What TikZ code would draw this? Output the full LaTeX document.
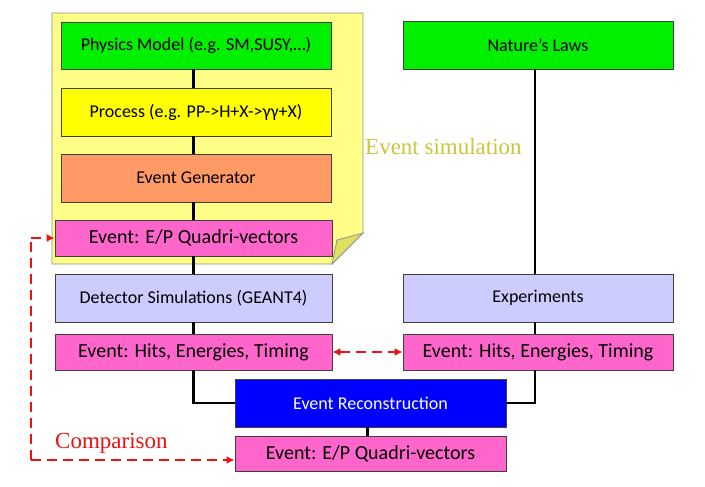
\documentclass[tikz,border=0pt]{standalone}
\usepackage{fontspec}
\setmainfont{Liberation Serif}
\newfontfamily\boxfont{Carlito}
\usetikzlibrary{arrows.meta}
\definecolor{boxborder}{HTML}{404040}
\definecolor{cgreen}{HTML}{00F000}
\definecolor{cyellow}{HTML}{FFFF00}
\definecolor{corange}{HTML}{FF9966}
\definecolor{cpink}{HTML}{FF66CC}
\definecolor{clav}{HTML}{CCCCFF}
\definecolor{cblue}{HTML}{0000FF}
\definecolor{cnote}{HTML}{FFFF88}
\definecolor{cfold}{HTML}{E0E060}
\definecolor{cnotebd}{HTML}{909090}
\definecolor{csim}{HTML}{C8C83C}
\definecolor{cred}{HTML}{EE1111}
\begin{document}
\begin{tikzpicture}[x=1pt,y=-1pt,
  box/.style={draw=boxborder, line width=0.8pt, inner sep=0pt, text=black,
    font=\boxfont\fontsize{18}{21}\selectfont},
  bigbox/.style={box, font=\boxfont\fontsize{20}{23}\selectfont},
  link/.style={line width=2.6pt, black},
  cmp/.style={cred, line width=2.6pt, dash pattern=on 10pt off 6pt},
  tip/.style={-{Latex[length=8pt,width=8pt]}}]
\useasboundingbox (0,0) rectangle (705,487);
\fill[white] (0,0) rectangle (705,487);
% note
\draw[cnotebd, fill=cnote, line width=0.8pt] (52,13) -- (363,13) -- (363,233) -- (332,264) -- (52,264) -- cycle;
\draw[cnotebd, fill=cfold, line width=0.8pt] (332,264) -- (337,240) -- (363,233) -- cycle;
% left column
\node[box, fill=cgreen, minimum width=270pt, minimum height=47pt] (pm) at (196,45.5) {Physics Model (e.g. SM,SUSY,\dots)};
\node[box, fill=cyellow, minimum width=270pt, minimum height=48pt] (pr) at (196,112) {Process (e.g. PP->H+X->γγ+X)};
\node[box, fill=corange, minimum width=270pt, minimum height=48pt] (eg) at (196,178) {Event Generator};
\node[bigbox, fill=cpink, minimum width=277pt, minimum height=36pt] (ep) at (193.5,238) {Event: E/P Quadri-vectors};
\node[box, fill=clav, minimum width=277pt, minimum height=48pt] (ds) at (193.5,298) {Detector Simulations (GEANT4)};
\node[bigbox, fill=cpink, minimum width=277pt, minimum height=36pt] (hl) at (193.5,352) {Event: Hits, Energies, Timing};
% right column
\coordinate (xr) at (535,0);
\node[box, fill=cgreen, minimum width=270pt, minimum height=48pt] (nl) at (538,45) {Nature’s Laws};
\node[box, fill=clav, minimum width=270pt, minimum height=48pt] (ex) at (538,298) {Experiments};
\node[bigbox, fill=cpink, minimum width=270pt, minimum height=36pt] (hr) at (538,352) {Event: Hits, Energies, Timing};
% bottom
\node[box, fill=cblue, text=white, minimum width=271pt, minimum height=48pt] (rc) at (370.5,403) {Event Reconstruction};
\node[bigbox, fill=cpink, minimum width=271pt, minimum height=35pt] (fin) at (370.5,453.5) {Event: E/P Quadri-vectors};
% connectors
\draw[link] (pm.south -| hl.center) -- (pr.north -| hl.center);
\draw[link] (pr.south -| hl.center) -- (eg.north -| hl.center);
\draw[link] (eg.south -| hl.center) -- (ep.north -| hl.center);
\draw[link] (ep.south) -- (ds.north);
\draw[link] (ds.south) -- (hl.north);
\draw[link] (hl.south) -- (hl.south |- rc.west) -- (rc.west);
\draw[link] (nl.south -| xr) -- (ex.north -| xr);
\draw[link] (ex.south -| xr) -- (hr.north -| xr);
\draw[link] (hr.south -| xr) -- (xr |- rc.east) -- (rc.east);
\draw[link] (rc.south -| fin.center) ++(-3,0) coordinate (rb) -- (rb |- fin.north);
% labels
\node[csim, font=\fontsize{23}{26}\selectfont, anchor=base west, inner sep=0pt] (sim) at (365,154) {Event simulation};
\node[cred, font=\fontsize{23}{26}\selectfont, anchor=base west, inner sep=0pt] (cmpl) at (55,448) {Comparison};
% comparison arrows
\coordinate (cl) at (31,0);
\coordinate (fy) at (0,460);
\draw[cmp, tip] (cl |- fy) -- (fin.west |- fy);
\draw[cmp] (cl |- fy) -- (cl |- ep.west);
\draw[cmp, tip] (cl |- ep.west) -- (ep.west);
\draw[cmp, {Latex[length=8pt,width=8pt]}-{Latex[length=8pt,width=8pt]}] (hl.east) -- (hr.west);
\end{tikzpicture}
\end{document}
